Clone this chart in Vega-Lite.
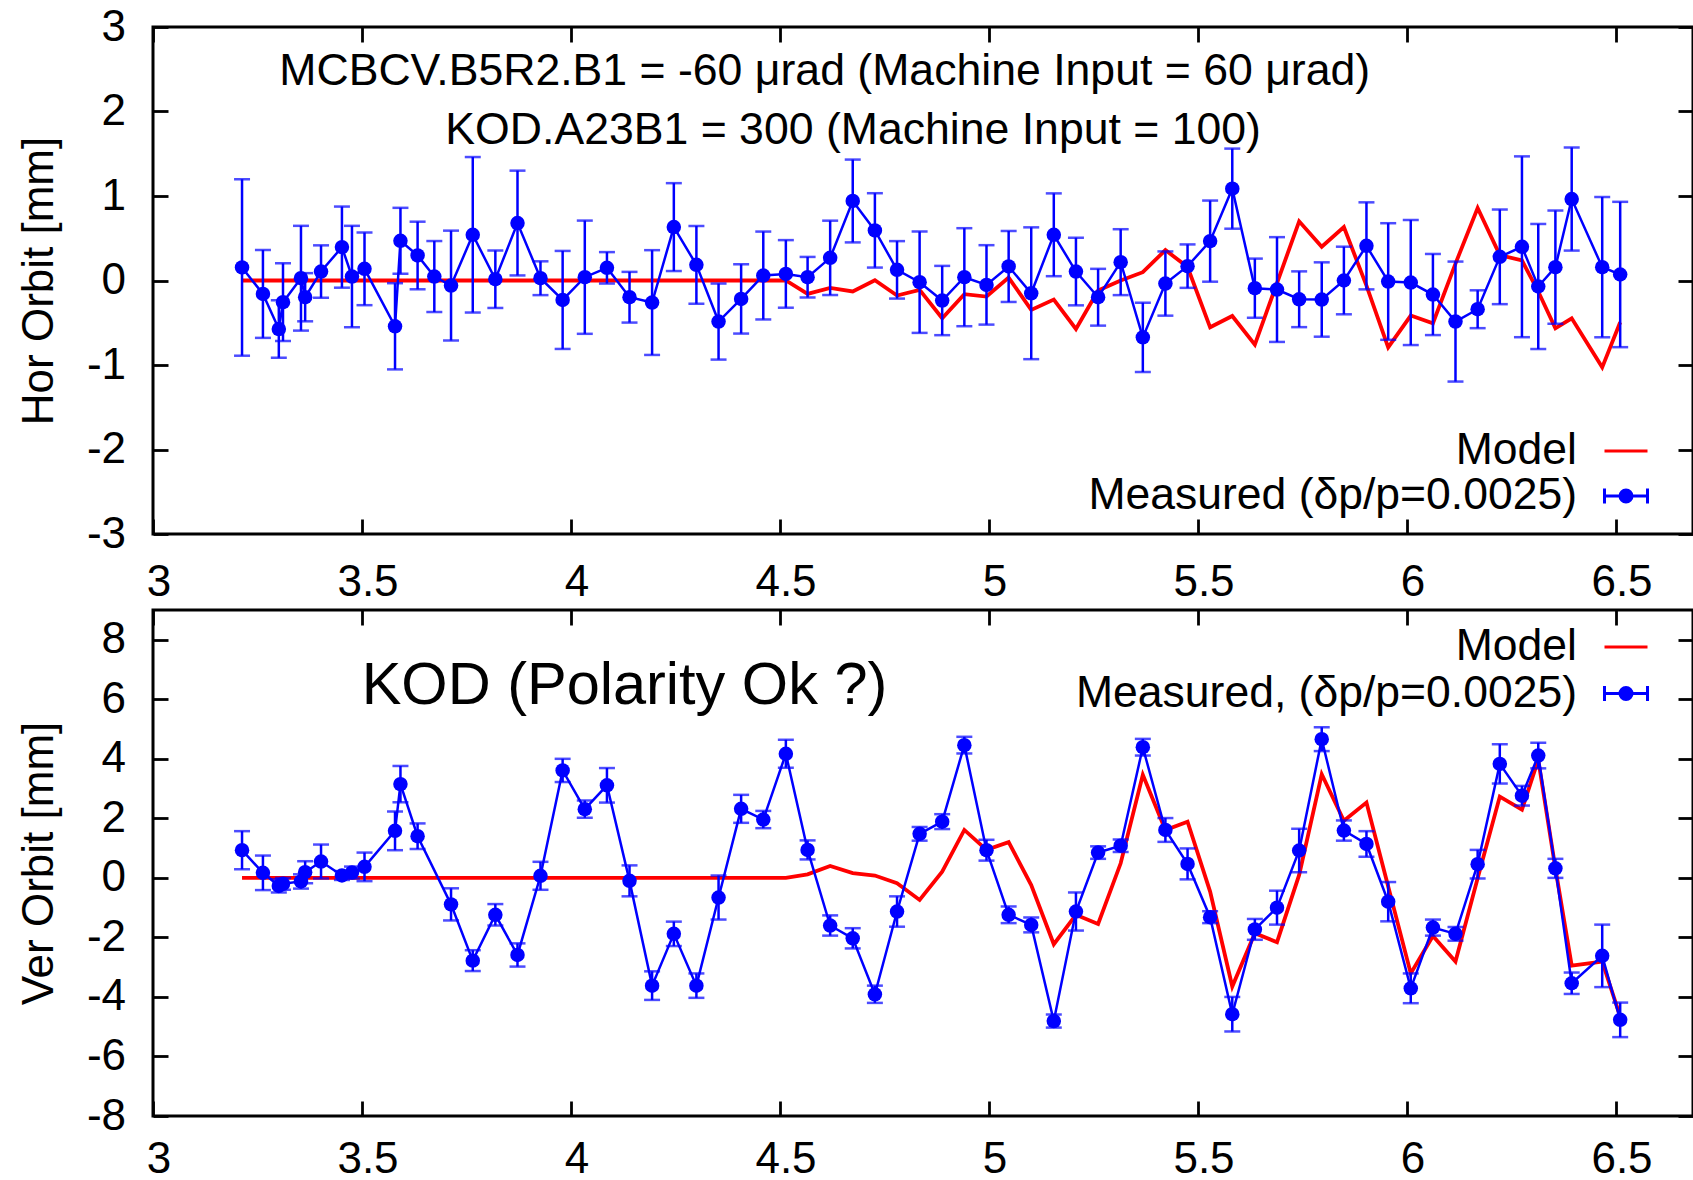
{
  "$schema": "https://vega.github.io/schema/vega-lite/v6.json",
  "background": "white",
  "padding": {"left": 15, "top": 3, "right": 0, "bottom": 0},
  "spacing": 76,
  "bounds": "flush",
  "config": {
    "font": "Liberation Sans",
    "view": {"stroke": "black", "strokeWidth": 3},
    "axis": {"grid": false, "domain": false, "ticks": true, "tickSize": -15, "tickWidth": 2.8, "tickColor": "black",
      "labelFont": "Liberation Sans", "labelFontSize": 44, "labelColor": "black", "labelFlush": false, "labelOverlap": false,
      "titleFont": "Liberation Sans", "titleFontSize": 44, "titleFontWeight": "normal", "titleColor": "black"},
    "legend": {"labelFont": "Liberation Sans", "labelFontSize": 44.5, "labelColor": "black", "symbolFillColor": "#0000ff"}
  },
  "datasets": {
    "top": [
      {"series":"Model","x":3.213,"y":0},{"series":"Model","x":3.263,"y":0},{"series":"Model","x":3.301,"y":0},{"series":"Model","x":3.311,"y":0},
      {"series":"Model","x":3.354,"y":0},{"series":"Model","x":3.364,"y":0},{"series":"Model","x":3.402,"y":0},{"series":"Model","x":3.452,"y":0},
      {"series":"Model","x":3.476,"y":0},{"series":"Model","x":3.506,"y":0},{"series":"Model","x":3.579,"y":0},{"series":"Model","x":3.592,"y":0},
      {"series":"Model","x":3.633,"y":0},{"series":"Model","x":3.673,"y":0},{"series":"Model","x":3.713,"y":0},{"series":"Model","x":3.765,"y":0},
      {"series":"Model","x":3.819,"y":0},{"series":"Model","x":3.872,"y":0},{"series":"Model","x":3.927,"y":0},{"series":"Model","x":3.98,"y":0},
      {"series":"Model","x":4.033,"y":0},{"series":"Model","x":4.086,"y":0},{"series":"Model","x":4.14,"y":0},{"series":"Model","x":4.194,"y":0},
      {"series":"Model","x":4.246,"y":0},{"series":"Model","x":4.3,"y":0},{"series":"Model","x":4.353,"y":0},{"series":"Model","x":4.407,"y":0},
      {"series":"Model","x":4.46,"y":0},{"series":"Model","x":4.514,"y":0},{"series":"Model","x":4.566,"y":-0.159},{"series":"Model","x":4.62,"y":-0.087},
      {"series":"Model","x":4.674,"y":-0.13},{"series":"Model","x":4.727,"y":0.003},{"series":"Model","x":4.78,"y":-0.178},{"series":"Model","x":4.834,"y":-0.111},
      {"series":"Model","x":4.888,"y":-0.447},{"series":"Model","x":4.941,"y":-0.162},{"series":"Model","x":4.994,"y":-0.19},{"series":"Model","x":5.047,"y":0.035},
      {"series":"Model","x":5.101,"y":-0.348},{"series":"Model","x":5.155,"y":-0.225},{"series":"Model","x":5.208,"y":-0.574},{"series":"Model","x":5.261,"y":-0.119},
      {"series":"Model","x":5.315,"y":0.0},{"series":"Model","x":5.368,"y":0.098},{"series":"Model","x":5.422,"y":0.36},{"series":"Model","x":5.475,"y":0.16},
      {"series":"Model","x":5.529,"y":-0.554},{"series":"Model","x":5.582,"y":-0.42},{"series":"Model","x":5.636,"y":-0.76},{"series":"Model","x":5.689,"y":-0.03},
      {"series":"Model","x":5.742,"y":0.7},{"series":"Model","x":5.796,"y":0.4},{"series":"Model","x":5.849,"y":0.632},{"series":"Model","x":5.903,"y":-0.06},
      {"series":"Model","x":5.955,"y":-0.791},{"series":"Model","x":6.009,"y":-0.415},{"series":"Model","x":6.062,"y":-0.506},{"series":"Model","x":6.116,"y":0.2},
      {"series":"Model","x":6.169,"y":0.858},{"series":"Model","x":6.222,"y":0.3},{"series":"Model","x":6.275,"y":0.237},{"series":"Model","x":6.314,"y":-0.13},
      {"series":"Model","x":6.355,"y":-0.566},{"series":"Model","x":6.394,"y":-0.447},{"series":"Model","x":6.467,"y":-1.028},{"series":"Model","x":6.51,"y":-0.494},
      {"series":"Measured (δp/p=0.0025)","x":3.213,"y":0.154,"err":1.044},
      {"series":"Measured (δp/p=0.0025)","x":3.263,"y":-0.159,"err":0.52},
      {"series":"Measured (δp/p=0.0025)","x":3.301,"y":-0.574,"err":0.34},
      {"series":"Measured (δp/p=0.0025)","x":3.311,"y":-0.257,"err":0.46},
      {"series":"Measured (δp/p=0.0025)","x":3.354,"y":0.027,"err":0.62},
      {"series":"Measured (δp/p=0.0025)","x":3.364,"y":-0.198,"err":0.285},
      {"series":"Measured (δp/p=0.0025)","x":3.402,"y":0.106,"err":0.31},
      {"series":"Measured (δp/p=0.0025)","x":3.452,"y":0.395,"err":0.48},
      {"series":"Measured (δp/p=0.0025)","x":3.476,"y":0.047,"err":0.6},
      {"series":"Measured (δp/p=0.0025)","x":3.506,"y":0.138,"err":0.43},
      {"series":"Measured (δp/p=0.0025)","x":3.579,"y":-0.542,"err":0.51},
      {"series":"Measured (δp/p=0.0025)","x":3.592,"y":0.47,"err":0.39},
      {"series":"Measured (δp/p=0.0025)","x":3.633,"y":0.296,"err":0.4},
      {"series":"Measured (δp/p=0.0025)","x":3.673,"y":0.047,"err":0.42},
      {"series":"Measured (δp/p=0.0025)","x":3.713,"y":-0.06,"err":0.65},
      {"series":"Measured (δp/p=0.0025)","x":3.765,"y":0.541,"err":0.92},
      {"series":"Measured (δp/p=0.0025)","x":3.819,"y":0.015,"err":0.34},
      {"series":"Measured (δp/p=0.0025)","x":3.872,"y":0.68,"err":0.62},
      {"series":"Measured (δp/p=0.0025)","x":3.927,"y":0.027,"err":0.2},
      {"series":"Measured (δp/p=0.0025)","x":3.98,"y":-0.23,"err":0.58},
      {"series":"Measured (δp/p=0.0025)","x":4.033,"y":0.039,"err":0.67},
      {"series":"Measured (δp/p=0.0025)","x":4.086,"y":0.15,"err":0.186},
      {"series":"Measured (δp/p=0.0025)","x":4.14,"y":-0.198,"err":0.3},
      {"series":"Measured (δp/p=0.0025)","x":4.194,"y":-0.261,"err":0.62},
      {"series":"Measured (δp/p=0.0025)","x":4.246,"y":0.632,"err":0.52},
      {"series":"Measured (δp/p=0.0025)","x":4.3,"y":0.185,"err":0.46},
      {"series":"Measured (δp/p=0.0025)","x":4.353,"y":-0.486,"err":0.45},
      {"series":"Measured (δp/p=0.0025)","x":4.407,"y":-0.218,"err":0.41},
      {"series":"Measured (δp/p=0.0025)","x":4.46,"y":0.059,"err":0.52},
      {"series":"Measured (δp/p=0.0025)","x":4.514,"y":0.078,"err":0.4},
      {"series":"Measured (δp/p=0.0025)","x":4.566,"y":0.039,"err":0.24},
      {"series":"Measured (δp/p=0.0025)","x":4.62,"y":0.268,"err":0.44},
      {"series":"Measured (δp/p=0.0025)","x":4.674,"y":0.941,"err":0.49},
      {"series":"Measured (δp/p=0.0025)","x":4.727,"y":0.593,"err":0.44},
      {"series":"Measured (δp/p=0.0025)","x":4.78,"y":0.126,"err":0.34},
      {"series":"Measured (δp/p=0.0025)","x":4.834,"y":-0.02,"err":0.6},
      {"series":"Measured (δp/p=0.0025)","x":4.888,"y":-0.237,"err":0.41},
      {"series":"Measured (δp/p=0.0025)","x":4.941,"y":0.039,"err":0.58},
      {"series":"Measured (δp/p=0.0025)","x":4.994,"y":-0.052,"err":0.47},
      {"series":"Measured (δp/p=0.0025)","x":5.047,"y":0.166,"err":0.42},
      {"series":"Measured (δp/p=0.0025)","x":5.101,"y":-0.151,"err":0.78},
      {"series":"Measured (δp/p=0.0025)","x":5.155,"y":0.541,"err":0.49},
      {"series":"Measured (δp/p=0.0025)","x":5.208,"y":0.106,"err":0.4},
      {"series":"Measured (δp/p=0.0025)","x":5.261,"y":-0.198,"err":0.336},
      {"series":"Measured (δp/p=0.0025)","x":5.315,"y":0.217,"err":0.39},
      {"series":"Measured (δp/p=0.0025)","x":5.368,"y":-0.673,"err":0.41},
      {"series":"Measured (δp/p=0.0025)","x":5.422,"y":-0.036,"err":0.38},
      {"series":"Measured (δp/p=0.0025)","x":5.475,"y":0.17,"err":0.257},
      {"series":"Measured (δp/p=0.0025)","x":5.529,"y":0.466,"err":0.48},
      {"series":"Measured (δp/p=0.0025)","x":5.582,"y":1.087,"err":0.474},
      {"series":"Measured (δp/p=0.0025)","x":5.636,"y":-0.091,"err":0.35},
      {"series":"Measured (δp/p=0.0025)","x":5.689,"y":-0.107,"err":0.62},
      {"series":"Measured (δp/p=0.0025)","x":5.742,"y":-0.222,"err":0.33},
      {"series":"Measured (δp/p=0.0025)","x":5.796,"y":-0.225,"err":0.44},
      {"series":"Measured (δp/p=0.0025)","x":5.849,"y":0.0,"err":0.4},
      {"series":"Measured (δp/p=0.0025)","x":5.903,"y":0.41,"err":0.515},
      {"series":"Measured (δp/p=0.0025)","x":5.955,"y":-0.012,"err":0.69},
      {"series":"Measured (δp/p=0.0025)","x":6.009,"y":-0.024,"err":0.74},
      {"series":"Measured (δp/p=0.0025)","x":6.062,"y":-0.166,"err":0.48},
      {"series":"Measured (δp/p=0.0025)","x":6.116,"y":-0.486,"err":0.71},
      {"series":"Measured (δp/p=0.0025)","x":6.169,"y":-0.34,"err":0.224},
      {"series":"Measured (δp/p=0.0025)","x":6.222,"y":0.28,"err":0.56},
      {"series":"Measured (δp/p=0.0025)","x":6.275,"y":0.399,"err":1.07},
      {"series":"Measured (δp/p=0.0025)","x":6.314,"y":-0.071,"err":0.74},
      {"series":"Measured (δp/p=0.0025)","x":6.355,"y":0.158,"err":0.67},
      {"series":"Measured (δp/p=0.0025)","x":6.394,"y":0.964,"err":0.61},
      {"series":"Measured (δp/p=0.0025)","x":6.467,"y":0.158,"err":0.83},
      {"series":"Measured (δp/p=0.0025)","x":6.51,"y":0.071,"err":0.86}
    ],
    "bot": [
      {"series":"Model","x":3.213,"y":0},{"series":"Model","x":3.263,"y":0},{"series":"Model","x":3.301,"y":0},{"series":"Model","x":3.311,"y":0},
      {"series":"Model","x":3.354,"y":0},{"series":"Model","x":3.364,"y":0},{"series":"Model","x":3.402,"y":0},{"series":"Model","x":3.452,"y":0},
      {"series":"Model","x":3.476,"y":0},{"series":"Model","x":3.506,"y":0},{"series":"Model","x":3.579,"y":0},{"series":"Model","x":3.592,"y":0},
      {"series":"Model","x":3.633,"y":0},{"series":"Model","x":3.713,"y":0},{"series":"Model","x":3.765,"y":0},
      {"series":"Model","x":3.819,"y":0},{"series":"Model","x":3.872,"y":0},{"series":"Model","x":3.927,"y":0},{"series":"Model","x":3.98,"y":0},
      {"series":"Model","x":4.033,"y":0},{"series":"Model","x":4.086,"y":0},{"series":"Model","x":4.14,"y":0},{"series":"Model","x":4.194,"y":0},
      {"series":"Model","x":4.246,"y":0},{"series":"Model","x":4.3,"y":0},{"series":"Model","x":4.353,"y":0},{"series":"Model","x":4.407,"y":0},
      {"series":"Model","x":4.46,"y":0},{"series":"Model","x":4.514,"y":0},{"series":"Model","x":4.566,"y":0.12},{"series":"Model","x":4.62,"y":0.4},
      {"series":"Model","x":4.674,"y":0.16},{"series":"Model","x":4.727,"y":0.08},{"series":"Model","x":4.78,"y":-0.18},{"series":"Model","x":4.834,"y":-0.74},
      {"series":"Model","x":4.888,"y":0.21},{"series":"Model","x":4.941,"y":1.61},{"series":"Model","x":4.994,"y":0.94},{"series":"Model","x":5.047,"y":1.2},
      {"series":"Model","x":5.101,"y":-0.24},{"series":"Model","x":5.155,"y":-2.23},{"series":"Model","x":5.208,"y":-1.24},{"series":"Model","x":5.261,"y":-1.55},
      {"series":"Model","x":5.315,"y":0.49},{"series":"Model","x":5.368,"y":3.46},{"series":"Model","x":5.422,"y":1.61},{"series":"Model","x":5.475,"y":1.89},
      {"series":"Model","x":5.529,"y":-0.46},{"series":"Model","x":5.582,"y":-3.65},{"series":"Model","x":5.636,"y":-1.86},{"series":"Model","x":5.689,"y":-2.16},
      {"series":"Model","x":5.742,"y":0.1},{"series":"Model","x":5.796,"y":3.48},{"series":"Model","x":5.849,"y":1.92},{"series":"Model","x":5.903,"y":2.53},
      {"series":"Model","x":5.955,"y":-0.29},{"series":"Model","x":6.009,"y":-3.21},{"series":"Model","x":6.062,"y":-1.95},{"series":"Model","x":6.116,"y":-2.81},
      {"series":"Model","x":6.169,"y":-0.01},{"series":"Model","x":6.222,"y":2.73},{"series":"Model","x":6.275,"y":2.29},{"series":"Model","x":6.314,"y":3.97},
      {"series":"Model","x":6.355,"y":0.32},{"series":"Model","x":6.394,"y":-2.95},{"series":"Model","x":6.467,"y":-2.81},{"series":"Model","x":6.51,"y":-4.66},
      {"series":"Measured, (δp/p=0.0025)","x":3.213,"y":0.93,"err":0.64},
      {"series":"Measured, (δp/p=0.0025)","x":3.263,"y":0.17,"err":0.58},
      {"series":"Measured, (δp/p=0.0025)","x":3.301,"y":-0.27,"err":0.22},
      {"series":"Measured, (δp/p=0.0025)","x":3.311,"y":-0.2,"err":0.2},
      {"series":"Measured, (δp/p=0.0025)","x":3.354,"y":-0.12,"err":0.24},
      {"series":"Measured, (δp/p=0.0025)","x":3.364,"y":0.19,"err":0.37},
      {"series":"Measured, (δp/p=0.0025)","x":3.402,"y":0.55,"err":0.57},
      {"series":"Measured, (δp/p=0.0025)","x":3.452,"y":0.08,"err":0.15},
      {"series":"Measured, (δp/p=0.0025)","x":3.476,"y":0.18,"err":0.2},
      {"series":"Measured, (δp/p=0.0025)","x":3.506,"y":0.37,"err":0.48},
      {"series":"Measured, (δp/p=0.0025)","x":3.579,"y":1.58,"err":0.65},
      {"series":"Measured, (δp/p=0.0025)","x":3.592,"y":3.15,"err":0.61},
      {"series":"Measured, (δp/p=0.0025)","x":3.633,"y":1.4,"err":0.43},
      {"series":"Measured, (δp/p=0.0025)","x":3.713,"y":-0.89,"err":0.54},
      {"series":"Measured, (δp/p=0.0025)","x":3.765,"y":-2.78,"err":0.35},
      {"series":"Measured, (δp/p=0.0025)","x":3.819,"y":-1.24,"err":0.36},
      {"series":"Measured, (δp/p=0.0025)","x":3.872,"y":-2.59,"err":0.39},
      {"series":"Measured, (δp/p=0.0025)","x":3.927,"y":0.07,"err":0.47},
      {"series":"Measured, (δp/p=0.0025)","x":3.98,"y":3.61,"err":0.39},
      {"series":"Measured, (δp/p=0.0025)","x":4.033,"y":2.31,"err":0.29},
      {"series":"Measured, (δp/p=0.0025)","x":4.086,"y":3.11,"err":0.58},
      {"series":"Measured, (δp/p=0.0025)","x":4.14,"y":-0.1,"err":0.52},
      {"series":"Measured, (δp/p=0.0025)","x":4.194,"y":-3.62,"err":0.48},
      {"series":"Measured, (δp/p=0.0025)","x":4.246,"y":-1.88,"err":0.41},
      {"series":"Measured, (δp/p=0.0025)","x":4.3,"y":-3.62,"err":0.41},
      {"series":"Measured, (δp/p=0.0025)","x":4.353,"y":-0.66,"err":0.74},
      {"series":"Measured, (δp/p=0.0025)","x":4.407,"y":2.32,"err":0.47},
      {"series":"Measured, (δp/p=0.0025)","x":4.46,"y":1.96,"err":0.29},
      {"series":"Measured, (δp/p=0.0025)","x":4.514,"y":4.17,"err":0.47},
      {"series":"Measured, (δp/p=0.0025)","x":4.566,"y":0.94,"err":0.32},
      {"series":"Measured, (δp/p=0.0025)","x":4.62,"y":-1.6,"err":0.34},
      {"series":"Measured, (δp/p=0.0025)","x":4.674,"y":-2.03,"err":0.34},
      {"series":"Measured, (δp/p=0.0025)","x":4.727,"y":-3.91,"err":0.29},
      {"series":"Measured, (δp/p=0.0025)","x":4.78,"y":-1.13,"err":0.51},
      {"series":"Measured, (δp/p=0.0025)","x":4.834,"y":1.48,"err":0.23},
      {"series":"Measured, (δp/p=0.0025)","x":4.888,"y":1.89,"err":0.25},
      {"series":"Measured, (δp/p=0.0025)","x":4.941,"y":4.46,"err":0.28},
      {"series":"Measured, (δp/p=0.0025)","x":4.994,"y":0.93,"err":0.35},
      {"series":"Measured, (δp/p=0.0025)","x":5.047,"y":-1.24,"err":0.28},
      {"series":"Measured, (δp/p=0.0025)","x":5.101,"y":-1.58,"err":0.25},
      {"series":"Measured, (δp/p=0.0025)","x":5.155,"y":-4.81,"err":0.22},
      {"series":"Measured, (δp/p=0.0025)","x":5.208,"y":-1.13,"err":0.64},
      {"series":"Measured, (δp/p=0.0025)","x":5.261,"y":0.85,"err":0.21},
      {"series":"Measured, (δp/p=0.0025)","x":5.315,"y":1.08,"err":0.21},
      {"series":"Measured, (δp/p=0.0025)","x":5.368,"y":4.39,"err":0.28},
      {"series":"Measured, (δp/p=0.0025)","x":5.422,"y":1.61,"err":0.4},
      {"series":"Measured, (δp/p=0.0025)","x":5.475,"y":0.47,"err":0.52},
      {"series":"Measured, (δp/p=0.0025)","x":5.529,"y":-1.32,"err":0.2},
      {"series":"Measured, (δp/p=0.0025)","x":5.582,"y":-4.58,"err":0.58},
      {"series":"Measured, (δp/p=0.0025)","x":5.636,"y":-1.73,"err":0.35},
      {"series":"Measured, (δp/p=0.0025)","x":5.689,"y":-1.0,"err":0.57},
      {"series":"Measured, (δp/p=0.0025)","x":5.742,"y":0.92,"err":0.73},
      {"series":"Measured, (δp/p=0.0025)","x":5.796,"y":4.66,"err":0.4},
      {"series":"Measured, (δp/p=0.0025)","x":5.849,"y":1.59,"err":0.34},
      {"series":"Measured, (δp/p=0.0025)","x":5.903,"y":1.14,"err":0.43},
      {"series":"Measured, (δp/p=0.0025)","x":5.955,"y":-0.8,"err":0.66},
      {"series":"Measured, (δp/p=0.0025)","x":6.009,"y":-3.71,"err":0.5},
      {"series":"Measured, (δp/p=0.0025)","x":6.062,"y":-1.67,"err":0.27},
      {"series":"Measured, (δp/p=0.0025)","x":6.116,"y":-1.88,"err":0.23},
      {"series":"Measured, (δp/p=0.0025)","x":6.169,"y":0.46,"err":0.48},
      {"series":"Measured, (δp/p=0.0025)","x":6.222,"y":3.83,"err":0.66},
      {"series":"Measured, (δp/p=0.0025)","x":6.275,"y":2.76,"err":0.33},
      {"series":"Measured, (δp/p=0.0025)","x":6.314,"y":4.11,"err":0.43},
      {"series":"Measured, (δp/p=0.0025)","x":6.355,"y":0.32,"err":0.32},
      {"series":"Measured, (δp/p=0.0025)","x":6.394,"y":-3.54,"err":0.36},
      {"series":"Measured, (δp/p=0.0025)","x":6.467,"y":-2.62,"err":1.05},
      {"series":"Measured, (δp/p=0.0025)","x":6.51,"y":-4.77,"err":0.58}
    ]
  },
  "vconcat": [
    {
      "width": 1540,
      "height": 507,
      "data": {"name": "top"},
      "layer": [
        {
          "transform": [{"filter": "datum.series == 'Model'"}],
          "mark": {"type": "line", "color": "#ff0000", "strokeWidth": 3.8},
          "encoding": {
            "x": {"field": "x", "type": "quantitative", "scale": {"domain": [3, 6.6842], "nice": false, "zero": false},
              "axis": {"orient": "bottom", "values": [3, 3.5, 4, 4.5, 5, 5.5, 6, 6.5], "labelExpr": "'' + datum.value", "labelOffset": 5.5, "labelPadding": 41, "title": null}},
            "y": {"field": "y", "type": "quantitative", "scale": {"domain": [-3, 3], "nice": false, "zero": false},
              "axis": {"orient": "left", "values": [-3, -2, -1, 0, 1, 2, 3], "labelExpr": "'' + datum.value", "labelPadding": 42.5, "title": "Hor Orbit [mm]", "titleX": -100.5, "titleBaseline": "alphabetic"}}
          }
        },
        {
          "transform": [{"filter": "datum.series != 'Model'"}],
          "mark": {"type": "errorbar", "color": "#0000ff", "rule": {"strokeWidth": 2.5, "color": "#0000ff"}, "ticks": {"size": 16, "thickness": 2.5, "color": "#0000ff"}},
          "encoding": {
            "x": {"field": "x", "type": "quantitative", "scale": {"domain": [3, 6.6842], "nice": false, "zero": false}, "axis": null},
            "y": {"field": "y", "type": "quantitative", "scale": {"domain": [-3, 3], "nice": false, "zero": false}, "axis": null},
            "yError": {"field": "err"}
          }
        },
        {
          "transform": [{"filter": "datum.series != 'Model'"}],
          "mark": {"type": "line", "color": "#0000ff", "strokeWidth": 2.5},
          "encoding": {
            "x": {"field": "x", "type": "quantitative", "scale": {"domain": [3, 6.6842], "nice": false, "zero": false},
              "axis": {"orient": "top", "values": [3, 3.5, 4, 4.5, 5, 5.5, 6, 6.5], "labels": false, "title": null}},
            "y": {"field": "y", "type": "quantitative", "scale": {"domain": [-3, 3], "nice": false, "zero": false},
              "axis": {"orient": "right", "values": [-3, -2, -1, 0, 1, 2, 3], "labels": false, "title": null}}
          }
        },
        {
          "transform": [{"filter": "datum.series != 'Model'"}],
          "mark": {"type": "point", "shape": "circle", "filled": true, "color": "#0000ff", "size": 210, "opacity": 1},
          "encoding": {
            "x": {"field": "x", "type": "quantitative", "scale": {"domain": [3, 6.6842], "nice": false, "zero": false}, "axis": null},
            "y": {"field": "y", "type": "quantitative", "scale": {"domain": [-3, 3], "nice": false, "zero": false}, "axis": null}
          }
        },
        {
          "data": {"values": [{"t": "MCBCV.B5R2.B1 = -60 μrad (Machine Input = 60 μrad)"}]},
          "mark": {"type": "text", "font": "Liberation Sans", "fontSize": 44.6, "align": "center", "baseline": "alphabetic", "color": "black"},
          "encoding": {
            "x": {"datum": 4.607, "type": "quantitative", "scale": {"domain": [3, 6.6842], "nice": false, "zero": false}, "axis": null},
            "y": {"datum": 2.318, "type": "quantitative", "scale": {"domain": [-3, 3], "nice": false, "zero": false}, "axis": null},
            "text": {"field": "t"}
          }
        },
        {
          "data": {"values": [{"t": "KOD.A23B1 = 300 (Machine Input = 100)"}]},
          "mark": {"type": "text", "font": "Liberation Sans", "fontSize": 44.6, "align": "center", "baseline": "alphabetic", "color": "black"},
          "encoding": {
            "x": {"datum": 4.675, "type": "quantitative", "scale": {"domain": [3, 6.6842], "nice": false, "zero": false}, "axis": null},
            "y": {"datum": 1.617, "type": "quantitative", "scale": {"domain": [-3, 3], "nice": false, "zero": false}, "axis": null},
            "text": {"field": "t"}
          }
        },
        {
          "mark": {"type": "point", "filled": true, "opacity": 0, "size": 1849, "strokeWidth": 3},
          "encoding": {
            "x": {"field": "x", "type": "quantitative", "scale": {"domain": [3, 6.6842], "nice": false, "zero": false}, "axis": null},
            "y": {"field": "y", "type": "quantitative", "scale": {"domain": [-3, 3], "nice": false, "zero": false}, "axis": null},
            "fill": {"field": "series", "type": "nominal",
              "scale": {"domain": ["Model", "Measured (δp/p=0.0025)"], "range": ["#ff0000", "#0000ff"]},
              "legend": {"orient": "none", "legendX": 1450, "legendY": 401, "title": null, "labelAlign": "right", "labelOffset": -72, "labelLimit": 2000, "labelFontSize": 44.5, "symbolSize": 1849, "symbolStrokeWidth": 3, "symbolFillColor": "#0000ff", "rowPadding": 0, "padding": 0, "offset": 0}},
            "stroke": {"field": "series", "type": "nominal",
              "scale": {"domain": ["Model", "Measured (δp/p=0.0025)"], "range": ["#ff0000", "#0000ff"]},
              "legend": {"orient": "none", "legendX": 1450, "legendY": 401, "title": null, "labelAlign": "right", "labelOffset": -72, "labelLimit": 2000, "labelFontSize": 44.5, "symbolSize": 1849, "symbolStrokeWidth": 3, "symbolFillColor": "#0000ff", "rowPadding": 0, "padding": 0, "offset": 0}},
            "shape": {"field": "series", "type": "nominal",
              "scale": {"domain": ["Model", "Measured (δp/p=0.0025)"], "range": ["M-1,0L1,0", "M-1,0L1,0M-1,-0.35L-1,0.35M1,-0.35L1,0.35M-0.28,0A0.28,0.28,0,1,0,0.28,0A0.28,0.28,0,1,0,-0.28,0M-0.2,0A0.2,0.2,0,1,0,0.2,0A0.2,0.2,0,1,0,-0.2,0M-0.12,0A0.12,0.12,0,1,0,0.12,0A0.12,0.12,0,1,0,-0.12,0M-0.04,0A0.04,0.04,0,1,0,0.04,0A0.04,0.04,0,1,0,-0.04,0"]},
              "legend": {"orient": "none", "legendX": 1450, "legendY": 401, "title": null, "labelAlign": "right", "labelOffset": -72, "labelLimit": 2000, "labelFontSize": 44.5, "symbolSize": 1849, "symbolStrokeWidth": 3, "symbolFillColor": "#0000ff", "rowPadding": 0, "padding": 0, "offset": 0}}
          }
        }
      ],
      "resolve": {"axis": {"x": "independent", "y": "independent"}}
    },
    {
      "width": 1540,
      "height": 506,
      "data": {"name": "bot"},
      "layer": [
        {
          "transform": [{"filter": "datum.series == 'Model'"}],
          "mark": {"type": "line", "color": "#ff0000", "strokeWidth": 3.8},
          "encoding": {
            "x": {"field": "x", "type": "quantitative", "scale": {"domain": [3, 6.6842], "nice": false, "zero": false},
              "axis": {"orient": "bottom", "values": [3, 3.5, 4, 4.5, 5, 5.5, 6, 6.5], "labelExpr": "'' + datum.value", "labelOffset": 5.5, "labelPadding": 36.5, "title": null}},
            "y": {"field": "y", "type": "quantitative", "scale": {"domain": [-8, 9], "nice": false, "zero": false},
              "axis": {"orient": "left", "values": [-8, -6, -4, -2, 0, 2, 4, 6, 8], "labelExpr": "'' + datum.value", "labelPadding": 42.5, "title": "Ver Orbit [mm]", "titleX": -100.5, "titleBaseline": "alphabetic"}}
          }
        },
        {
          "transform": [{"filter": "datum.series != 'Model'"}],
          "mark": {"type": "errorbar", "color": "#0000ff", "rule": {"strokeWidth": 2.5, "color": "#0000ff"}, "ticks": {"size": 16, "thickness": 2.5, "color": "#0000ff"}},
          "encoding": {
            "x": {"field": "x", "type": "quantitative", "scale": {"domain": [3, 6.6842], "nice": false, "zero": false}, "axis": null},
            "y": {"field": "y", "type": "quantitative", "scale": {"domain": [-8, 9], "nice": false, "zero": false}, "axis": null},
            "yError": {"field": "err"}
          }
        },
        {
          "transform": [{"filter": "datum.series != 'Model'"}],
          "mark": {"type": "line", "color": "#0000ff", "strokeWidth": 2.5},
          "encoding": {
            "x": {"field": "x", "type": "quantitative", "scale": {"domain": [3, 6.6842], "nice": false, "zero": false},
              "axis": {"orient": "top", "values": [3, 3.5, 4, 4.5, 5, 5.5, 6, 6.5], "labels": false, "title": null}},
            "y": {"field": "y", "type": "quantitative", "scale": {"domain": [-8, 9], "nice": false, "zero": false},
              "axis": {"orient": "right", "values": [-8, -6, -4, -2, 0, 2, 4, 6, 8], "labels": false, "title": null}}
          }
        },
        {
          "transform": [{"filter": "datum.series != 'Model'"}],
          "mark": {"type": "point", "shape": "circle", "filled": true, "color": "#0000ff", "size": 210, "opacity": 1},
          "encoding": {
            "x": {"field": "x", "type": "quantitative", "scale": {"domain": [3, 6.6842], "nice": false, "zero": false}, "axis": null},
            "y": {"field": "y", "type": "quantitative", "scale": {"domain": [-8, 9], "nice": false, "zero": false}, "axis": null}
          }
        },
        {
          "data": {"values": [{"t": "KOD (Polarity Ok ?)"}]},
          "mark": {"type": "text", "font": "Liberation Sans", "fontSize": 59.5, "align": "center", "baseline": "alphabetic", "color": "black"},
          "encoding": {
            "x": {"datum": 4.128, "type": "quantitative", "scale": {"domain": [3, 6.6842], "nice": false, "zero": false}, "axis": null},
            "y": {"datum": 5.835, "type": "quantitative", "scale": {"domain": [-8, 9], "nice": false, "zero": false}, "axis": null},
            "text": {"field": "t"}
          }
        },
        {
          "mark": {"type": "point", "filled": true, "opacity": 0, "size": 1849, "strokeWidth": 3},
          "encoding": {
            "x": {"field": "x", "type": "quantitative", "scale": {"domain": [3, 6.6842], "nice": false, "zero": false}, "axis": null},
            "y": {"field": "y", "type": "quantitative", "scale": {"domain": [-8, 9], "nice": false, "zero": false}, "axis": null},
            "fill": {"field": "series", "type": "nominal",
              "scale": {"domain": ["Model", "Measured, (δp/p=0.0025)"], "range": ["#ff0000", "#0000ff"]},
              "legend": {"orient": "none", "legendX": 1450, "legendY": 14, "title": null, "labelAlign": "right", "labelOffset": -72, "labelLimit": 2000, "labelFontSize": 44.5, "symbolSize": 1849, "symbolStrokeWidth": 3, "symbolFillColor": "#0000ff", "rowPadding": 1.5, "padding": 0, "offset": 0}},
            "stroke": {"field": "series", "type": "nominal",
              "scale": {"domain": ["Model", "Measured, (δp/p=0.0025)"], "range": ["#ff0000", "#0000ff"]},
              "legend": {"orient": "none", "legendX": 1450, "legendY": 14, "title": null, "labelAlign": "right", "labelOffset": -72, "labelLimit": 2000, "labelFontSize": 44.5, "symbolSize": 1849, "symbolStrokeWidth": 3, "symbolFillColor": "#0000ff", "rowPadding": 1.5, "padding": 0, "offset": 0}},
            "shape": {"field": "series", "type": "nominal",
              "scale": {"domain": ["Model", "Measured, (δp/p=0.0025)"], "range": ["M-1,0L1,0", "M-1,0L1,0M-1,-0.35L-1,0.35M1,-0.35L1,0.35M-0.28,0A0.28,0.28,0,1,0,0.28,0A0.28,0.28,0,1,0,-0.28,0M-0.2,0A0.2,0.2,0,1,0,0.2,0A0.2,0.2,0,1,0,-0.2,0M-0.12,0A0.12,0.12,0,1,0,0.12,0A0.12,0.12,0,1,0,-0.12,0M-0.04,0A0.04,0.04,0,1,0,0.04,0A0.04,0.04,0,1,0,-0.04,0"]},
              "legend": {"orient": "none", "legendX": 1450, "legendY": 14, "title": null, "labelAlign": "right", "labelOffset": -72, "labelLimit": 2000, "labelFontSize": 44.5, "symbolSize": 1849, "symbolStrokeWidth": 3, "symbolFillColor": "#0000ff", "rowPadding": 1.5, "padding": 0, "offset": 0}}
          }
        }
      ],
      "resolve": {"axis": {"x": "independent", "y": "independent"}}
    }
  ],
  "resolve": {
    "scale": {"x": "independent", "y": "independent", "fill": "independent", "stroke": "independent", "shape": "independent"},
    "legend": {"fill": "independent", "stroke": "independent", "shape": "independent"}
  }
}
